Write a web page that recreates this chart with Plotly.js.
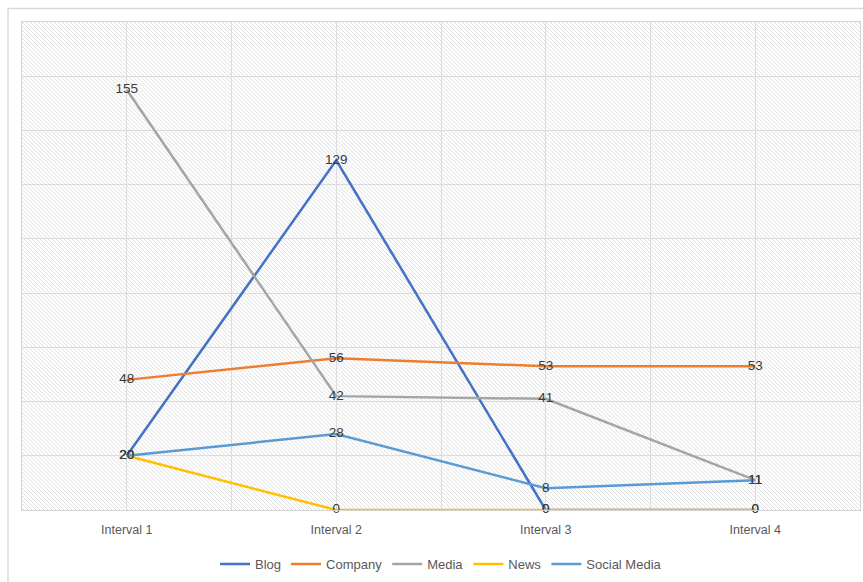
<!DOCTYPE html>
<html>
<head>
<meta charset="utf-8">
<script src="https://cdn.plot.ly/plotly-3.0.1.min.js"></script>
<style>html,body{margin:0;padding:0;background:#fff;}#chart{width:863px;height:582px;}</style>
</head>
<body>
<div id="chart"></div>
<script>
const categories = ["Interval 1", "Interval 2", "Interval 3", "Interval 4"];
const blog = [20, 129, 0, 0];
const company = [48, 56, 53, 53];
const media = [155, 42, 41, 11];
const news = [20, 0, 0, 0];
const socialMedia = [20, 28, 8, 11];

const seriesNames = ["Blog", "Company", "Media", "News", "Social Media"];
const seriesValues = [blog, company, media, news, socialMedia];
const seriesColors = ["#4472C4", "#ED7D31", "#A5A5A5", "#FFC000", "#5B9BD5"];

const xIdx = categories.map((c, i) => i);

const traces = seriesNames.map((name, k) => ({
  type: "scatter",
  mode: "lines+text",
  name: name,
  x: xIdx,
  y: seriesValues[k],
  text: seriesValues[k].map(String),
  textposition: "middle center",
  textfont: {family: "Liberation Sans, Arial, sans-serif", size: 13.5, color: "#3a3a3a"},
  line: {color: seriesColors[k], width: 2.5},
  cliponaxis: false,
  hoverinfo: "x+y+name"
}));

// tick positions: categories plus boundaries between them
const tickVals = [];
const tickText = [];
for (let i = -0.5; i <= categories.length - 0.5 + 1e-9; i += 0.5) {
  tickVals.push(i);
  const isInt = Math.abs(i - Math.round(i)) < 1e-9;
  tickText.push(isInt ? categories[Math.round(i)] : "");
}

const W = 838, H = 490;
const svg = `<svg xmlns="http://www.w3.org/2000/svg" width="${W}" height="${H}" viewBox="0 0 ${W} ${H}">` +
  `<defs><pattern id="p" patternUnits="userSpaceOnUse" width="4" height="4">` +
  `<rect width="4" height="4" fill="#ffffff"/>` +
  `<path d="M-1,-1 L5,5 M-1,3 L1,5 M3,-1 L5,1" stroke="#dedede" stroke-width="1"/>` +
  `</pattern></defs><rect width="${W}" height="${H}" fill="url(#p)"/></svg>`;
const svgUri = "data:image/svg+xml;base64," + btoa(svg);

const layout = {
  width: 863,
  height: 582,
  margin: {l: 22, r: 3, t: 22, b: 70},
  paper_bgcolor: "#ffffff",
  plot_bgcolor: "rgba(0,0,0,0)",
  font: {family: "Liberation Sans, Arial, sans-serif", size: 12, color: "#595959"},
  showlegend: true,
  legend: {
    orientation: "h",
    x: 0.5, xanchor: "center",
    y: -0.08, yanchor: "top",
    font: {size: 13, color: "#595959"},
    itemwidth: 30,
    tracegroupgap: 0
  },
  xaxis: {
    type: "linear",
    range: [-0.5, categories.length - 0.5],
    tickmode: "array",
    tickvals: tickVals,
    ticktext: tickText,
    showgrid: true,
    gridcolor: "#dcdcdc",
    gridwidth: 1,
    zeroline: false,
    showline: true,
    linecolor: "#d4d4d4",
    linewidth: 1,
    mirror: true,
    ticks: "outside",
    ticklen: 8,
    tickcolor: "rgba(0,0,0,0)",
    tickfont: {size: 12.5, color: "#595959"},
    fixedrange: true
  },
  yaxis: {
    range: [0, 180],
    dtick: 20,
    tick0: 0,
    showgrid: true,
    gridcolor: "#dcdcdc",
    gridwidth: 1,
    zeroline: false,
    showline: true,
    linecolor: "#d4d4d4",
    mirror: true,
    showticklabels: false,
    ticks: "",
    fixedrange: true
  },
  images: [{
    source: svgUri,
    xref: "paper", yref: "paper",
    x: 0, y: 1, sizex: 1, sizey: 1,
    xanchor: "left", yanchor: "top",
    sizing: "stretch",
    layer: "below"
  }],
  shapes: [
    {type: "line", xref: "paper", yref: "paper", x0: -0.0167, x1: 1.01, y0: 1.0276, y1: 1.0276,
     line: {color: "#d9d9d9", width: 1.5}},
    {type: "line", xref: "paper", yref: "paper", x0: -0.0167, x1: -0.0167, y0: 1.0276, y1: -0.16,
     line: {color: "#d9d9d9", width: 1.5}}
  ]
};

Plotly.newPlot("chart", traces, layout, {displayModeBar: false, staticPlot: true});
</script>
</body>
</html>
